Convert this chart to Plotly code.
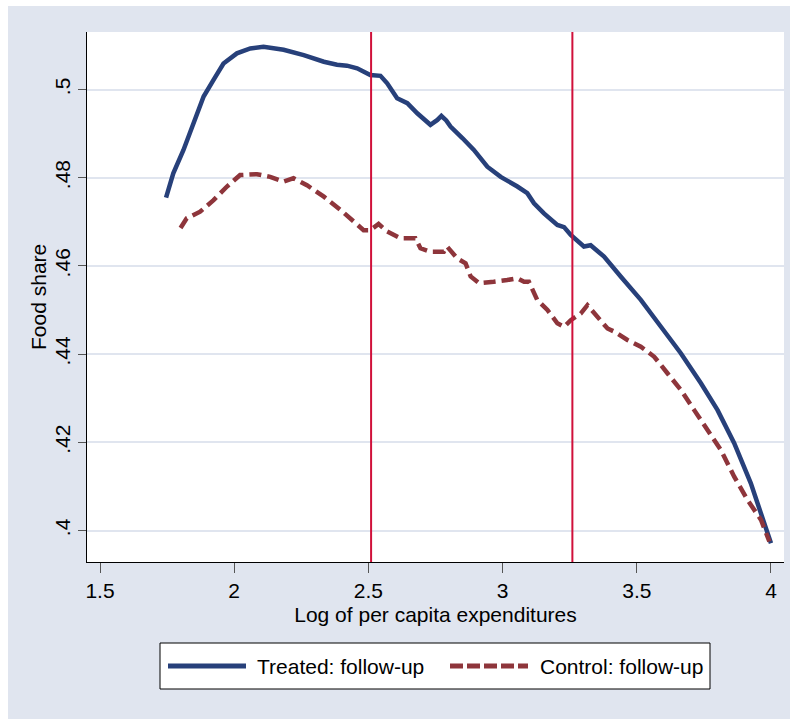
import plotly.graph_objects as go

# ---- data ----
treated_x = [1.746, 1.773, 1.811, 1.848, 1.886, 1.923, 1.960, 2.010, 2.060, 2.109,
             2.184, 2.259, 2.334, 2.383, 2.420, 2.458, 2.507, 2.545, 2.570, 2.607,
             2.645, 2.682, 2.731, 2.757, 2.772, 2.790, 2.806, 2.850, 2.893, 2.943,
             2.993, 3.055, 3.092, 3.117, 3.154, 3.204, 3.229, 3.254, 3.303, 3.328,
             3.378, 3.440, 3.515, 3.590, 3.664, 3.739, 3.801, 3.863, 3.925, 4.000]
treated_y = [0.4755, 0.4810, 0.4863, 0.4923, 0.4984, 0.5022, 0.5059, 0.5082, 0.5093, 0.5097,
             0.5090, 0.5078, 0.5063, 0.5056, 0.5054, 0.5048, 0.5033, 0.5031, 0.5014, 0.4980,
             0.4969, 0.4946, 0.4920, 0.4931, 0.4940, 0.4930, 0.4916, 0.4890, 0.4863, 0.4825,
             0.4802, 0.4780, 0.4765, 0.4742, 0.4719, 0.4693, 0.4688, 0.4670, 0.4644, 0.4647,
             0.4621, 0.4576, 0.4523, 0.4462, 0.4402, 0.4334, 0.4273, 0.4198, 0.4107, 0.3971]

control_x = [1.800, 1.823, 1.873, 1.923, 1.973, 2.022, 2.085, 2.134, 2.184, 2.221,
             2.271, 2.334, 2.396, 2.433, 2.482, 2.507, 2.538, 2.570, 2.619, 2.675,
             2.694, 2.731, 2.781, 2.793, 2.831, 2.862, 2.881, 2.912, 2.943, 2.967,
             3.017, 3.055, 3.080, 3.098, 3.129, 3.167, 3.204, 3.229, 3.254, 3.291,
             3.316, 3.353, 3.391, 3.416, 3.465, 3.515, 3.565, 3.615, 3.664, 3.714,
             3.764, 3.813, 3.863, 3.913, 3.963, 3.994]
control_y = [0.4686, 0.4708, 0.4723, 0.4749, 0.4780, 0.4806, 0.4808, 0.4802, 0.4791, 0.4799,
             0.4783, 0.4757, 0.4727, 0.4706, 0.4681, 0.4681, 0.4695, 0.4678, 0.4663, 0.4663,
             0.4640, 0.4632, 0.4632, 0.4644, 0.4617, 0.4606, 0.4576, 0.4561, 0.4564, 0.4564,
             0.4568, 0.4572, 0.4564, 0.4564, 0.4523, 0.4500, 0.4470, 0.4462, 0.4477, 0.4492,
             0.4511, 0.4485, 0.4458, 0.4451, 0.4432, 0.4417, 0.4394, 0.4356, 0.4319, 0.4273,
             0.4228, 0.4183, 0.4122, 0.4069, 0.4024, 0.3975]

ref_lines = [2.51, 3.26]

x_ticks = [1.5, 2, 2.5, 3, 3.5, 4]
x_tick_labels = ["1.5", "2", "2.5", "3", "3.5", "4"]
y_ticks = [0.40, 0.42, 0.44, 0.46, 0.48, 0.50]
y_tick_labels = [".4", ".42", ".44", ".46", ".48", ".5"]

series_names = ["Treated: follow-up", "Control: follow-up"]
x_title = "Log of per capita expenditures"
y_title = "Food share"

# ---- styles ----
NAVY = "#27407A"
MAROON = "#8E353B"
RED = "#D0103A"
BG = "#E0E5EF"
GRID = "#E0E5EF"
FONT = "Liberation Sans, Arial, sans-serif"
FS = 21

fig = go.Figure()
fig.add_trace(go.Scatter(x=treated_x, y=treated_y, mode="lines", name=series_names[0],
                         line=dict(color=NAVY, width=4.5), showlegend=False))
fig.add_trace(go.Scatter(x=control_x, y=control_y, mode="lines", name=series_names[1],
                         line=dict(color=MAROON, width=4.5, dash="12px,6px"), showlegend=False))

shapes = []
for xv in ref_lines:
    shapes.append(dict(type="line", xref="x", yref="paper", x0=xv, x1=xv, y0=0, y1=1,
                       line=dict(color=RED, width=2)))

W, H = 790, 719
L, R, T, B = 87, 6, 32, 157
pw, ph = W - L - R, H - T - B
def px(xp):
    return (xp - L) / pw
def py(yp):
    return (H - B - yp) / ph

# white edge strips of the image (left / top)
shapes.append(dict(type="rect", xref="paper", yref="paper", x0=px(0), x1=px(8), y0=py(H), y1=py(0),
                   fillcolor="white", line=dict(width=0), layer="below"))
shapes.append(dict(type="rect", xref="paper", yref="paper", x0=px(0), x1=px(W), y0=py(6), y1=py(0),
                   fillcolor="white", line=dict(width=0), layer="below"))

# custom legend box
shapes.append(dict(type="rect", xref="paper", yref="paper", x0=px(160), x1=px(710), y0=py(689), y1=py(643),
                   fillcolor="white", line=dict(color="black", width=1)))
shapes.append(dict(type="line", xref="paper", yref="paper", x0=px(168), x1=px(246), y0=py(666), y1=py(666),
                   line=dict(color=NAVY, width=5)))
shapes.append(dict(type="line", xref="paper", yref="paper", x0=px(450), x1=px(528), y0=py(666), y1=py(666),
                   line=dict(color=MAROON, width=5, dash="13px,4px")))

annotations = [
    dict(text=series_names[0], xref="paper", yref="paper", x=px(255), y=py(666), xanchor="left",
         yanchor="middle", showarrow=False, font=dict(family=FONT, size=FS, color="black")),
    dict(text=series_names[1], xref="paper", yref="paper", x=px(538), y=py(666), xanchor="left",
         yanchor="middle", showarrow=False, font=dict(family=FONT, size=FS, color="black")),
    dict(text=y_title, xref="paper", yref="paper", x=px(38), y=py(297), xanchor="center",
         yanchor="middle", textangle=-90, showarrow=False,
         font=dict(family=FONT, size=FS, color="black")),
]

fig.update_layout(
    width=W, height=H,
    margin=dict(l=L, r=R, t=T, b=B),
    paper_bgcolor=BG, plot_bgcolor="white",
    font=dict(family=FONT, size=FS, color="black"),
    shapes=shapes, annotations=annotations,
    showlegend=False,
    xaxis=dict(range=[1.4515, 4.0485], tickvals=x_ticks, ticktext=x_tick_labels,
               ticks="outside", ticklen=10, tickcolor="#555555", tickwidth=1,
               showline=True, linecolor="black", linewidth=1, showgrid=False, zeroline=False,
               title=dict(text=x_title, standoff=6, font=dict(family=FONT, size=FS))),
    yaxis=dict(range=[0.39286, 0.51304], tickvals=y_ticks, ticktext=y_tick_labels,
               tickangle=-90, ticks="outside", ticklen=8, tickcolor="#555555", tickwidth=1,
               showline=True, linecolor="black", linewidth=1, showgrid=True, gridcolor=GRID,
               gridwidth=2, zeroline=False),
)

fig.write_html("out.html")
